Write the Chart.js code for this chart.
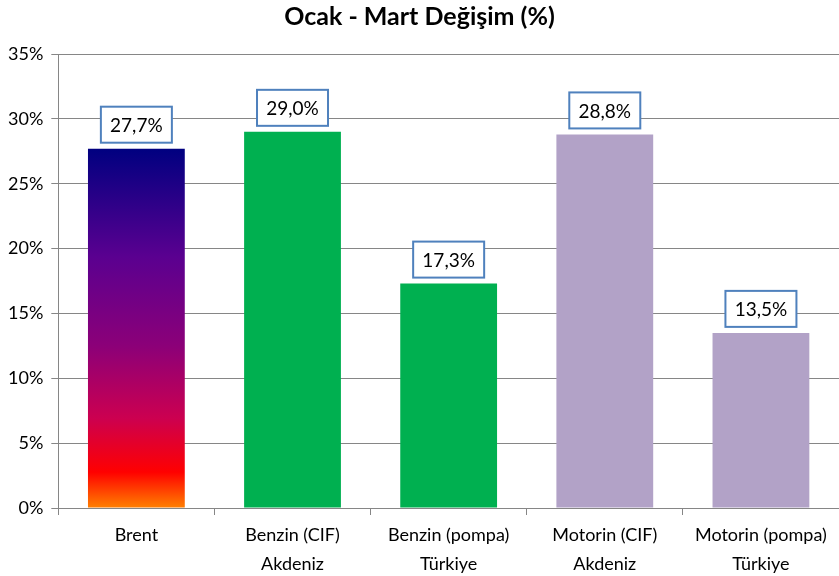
<!DOCTYPE html>
<html>
<head>
<meta charset="utf-8">
<script src="https://cdn.jsdelivr.net/npm/chart.js@4"></script>
<style>
  body { margin: 0; background: #fff; }
  #wrap { width: 839px; height: 576px; }
</style>
</head>
<body>
<div id="wrap"><canvas id="myChart"></canvas></div>
<script>
const categories = [
  "Brent",
  ["Benzin (CIF)", "Akdeniz"],
  ["Benzin (pompa)", "Türkiye"],
  ["Motorin (CIF)", "Akdeniz"],
  ["Motorin (pompa)", "Türkiye"],
];
const values = [27.7, 29.0, 17.3, 28.8, 13.5];
const yTicks = [0, 5, 10, 15, 20, 25, 30, 35];
const fontName = "Lato, 'Open Sans', sans-serif";

const barColors = [null, "#00b050", "#00b050", "#b2a2c7", "#b2a2c7"];

// Brent bar: Excel "fire" style gradient
function barFill(context) {
  const i = context.dataIndex;
  if (i !== 0) return barColors[i];
  const chart = context.chart;
  if (!chart.chartArea) return "#000080";
  const y = chart.scales.y;
  const top = y.getPixelForValue(values[0]);
  const bottom = y.getPixelForValue(0);
  const g = chart.ctx.createLinearGradient(0, top, 0, bottom);
  g.addColorStop(0, "#000080");
  g.addColorStop(0.3, "#5a0090");
  g.addColorStop(0.55, "#8c0078");
  g.addColorStop(0.75, "#cc0050");
  g.addColorStop(0.9, "#ff0000");
  g.addColorStop(1, "#ff8000");
  return g;
}

// boxed value labels above bars
const boxLabels = {
  id: "boxLabels",
  afterDatasetsDraw(chart) {
    const ctx = chart.ctx;
    const meta = chart.getDatasetMeta(0);
    ctx.save();
    ctx.font = "19px " + fontName;
    ctx.textAlign = "center";
    ctx.textBaseline = "middle";
    meta.data.forEach((bar, i) => {
      const txt = values[i].toFixed(1).replace(".", ",") + "%";
      const w = 71, h = 36;
      const x = bar.x - w / 2;
      const yb = bar.y - 6 - h;
      ctx.fillStyle = "#ffffff";
      ctx.fillRect(x, yb, w, h);
      ctx.strokeStyle = "#4f81bd";
      ctx.lineWidth = 2;
      ctx.strokeRect(x, yb, w, h);
      ctx.fillStyle = "#000000";
      ctx.fillText(txt, bar.x, yb + h / 2 + 1);
    });
    ctx.restore();
  },
};

const ctx = document.getElementById("myChart").getContext("2d");
const myChart = new Chart(ctx, {
  type: "bar",
  data: {
    labels: categories,
    datasets: [
      {
        label: "Ocak - Mart Değişim (%)",
        data: values,
        backgroundColor: barFill,
        borderWidth: 0,
        categoryPercentage: 1,
        barPercentage: 0.62,
      },
    ],
  },
  options: {
    responsive: true,
    maintainAspectRatio: false,
    animation: false,
    layout: { padding: { top: 0, right: 0, bottom: 0, left: 0 } },
    scales: {
      x: {
        offset: true,
        afterFit: (scale) => {
          scale.height = 68;
        },
        grid: {
          offset: true,
          drawOnChartArea: false,
          tickLength: 7,
          color: "#868686",
        },
        border: { color: "#868686" },
        ticks: {
          color: "#000",
          font: { family: fontName, size: 18, lineHeight: 1.65 },
          padding: 5,
          maxRotation: 0,
        },
      },
      y: {
        min: 0,
        max: 35,
        afterBuildTicks: (axis) => {
          axis.ticks = yTicks.map((v) => ({ value: v }));
        },
        grid: { color: "#868686", tickLength: 7 },
        border: { color: "#868686" },
        ticks: {
          color: "#000",
          font: { family: fontName, size: 18 },
          padding: 8,
          callback: (v) => v + "%",
        },
      },
    },
    plugins: {
      legend: { display: false },
      tooltip: { enabled: false },
      title: {
        display: true,
        text: "Ocak - Mart Değişim (%)",
        color: "#000",
        font: { family: fontName, size: 25, weight: "bold" },
        padding: { top: 2, bottom: 22 },
      },
    },
  },
  plugins: [boxLabels],
});
</script>
</body>
</html>
